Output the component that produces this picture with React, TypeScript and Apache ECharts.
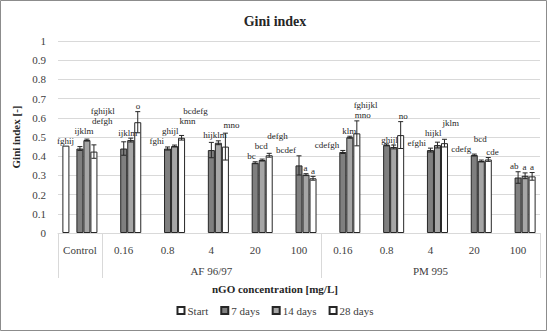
import React, { useEffect, useRef } from "react";
import * as echarts from "echarts";

const categories = ["Control", "0.16", "0.8", "4", "20", "100", "0.16", "0.8", "4", "20", "100"];
const groupOfCategory = ["", "AF 96/97", "AF 96/97", "AF 96/97", "AF 96/97", "AF 96/97", "PM 995", "PM 995", "PM 995", "PM 995", "PM 995"];
const seriesNames = ["Start", "7 days", "14 days", "28 days"];
const yTicks = [0, 0.1, 0.2, 0.3, 0.4, 0.5, 0.6, 0.7, 0.8, 0.9, 1];

const startVals = [0.455, null, null, null, null, null, null, null, null, null, null];
const d7 = [0.44, 0.44, 0.44, 0.432, 0.366, 0.352, 0.422, 0.459, 0.432, 0.406, 0.289];
const d14 = [0.484, 0.484, 0.453, 0.47, 0.38, 0.304, 0.499, 0.448, 0.458, 0.375, 0.298];
const d28 = [0.424, 0.577, 0.496, 0.45, 0.405, 0.285, 0.519, 0.51, 0.468, 0.383, 0.295];
const err7 = [0.01, 0.035, 0.008, 0.04, 0.005, 0.05, 0.008, 0.005, 0.01, 0.005, 0.03];
const err14 = [0.005, 0.01, 0.005, 0.01, 0.005, 0.005, 0.005, 0.01, 0.015, 0.005, 0.015];
const err28 = [0.035, 0.055, 0.012, 0.07, 0.01, 0.01, 0.065, 0.07, 0.02, 0.01, 0.02];
const lab7 = ["fghij", "fghijkl", "fghi", "bcdefg", "bc", "bcdef", "cdefgh", "fghijkl", "efghi", "cdefg", "ab"];
const lab14 = ["ijklm", "ijklm", "ghijl", "hijklm", "bcd", "a", "klm", "ghijl", "hijkl", "bcd", "a"];
const lab28 = ["defgh", "o", "kmn", "mno", "defgh", "a", "mno", "no", "jklm", "cde", "a"];

const FONT = "Times New Roman, Liberation Serif, serif";
const TEXT = "#262626";
const GRID = "#d9d9d9";

export default function App() {
  const ref = useRef<HTMLDivElement>(null);
  useEffect(() => {
    document.body.style.margin = "0";
    if (!ref.current) return;
    const chart = echarts.init(ref.current, undefined, { renderer: "svg" });
    const keys = categories.map((c, i) => `${i}:${c}`);
    const groupKeys = categories.map((_, i) => {
      const g = groupOfCategory[i];
      const members = groupOfCategory.map((x, j) => (x === g ? j : -1)).filter((j) => j >= 0);
      const mid = members[Math.floor(members.length / 2)];
      return `${i}:${g && mid === i ? g : ""}`;
    });
    const boundary = categories.map((_, i) => i === 0 || groupOfCategory[i] !== groupOfCategory[i - 1]);

    const barBase = {
      type: "bar" as const,
      barGap: "0%",
      barCategoryGap: "20%",
      xAxisIndex: 0,
      yAxisIndex: 0,
    };
    const colors = ["#ffffff", "#7f7f7f", "#a6a6a6", "#ffffff"];
    const dataSets = [startVals, d7, d14, d28];
    const barSeries: any[] = [];
    dataSets.forEach((d, k) => {
      barSeries.push({
        ...barBase,
        name: seriesNames[k],
        data: d,
        itemStyle: { color: colors[k], borderColor: TEXT, borderWidth: 1 },
      });
      if (k === 0) {
        barSeries.push({ ...barBase, name: "gap", data: categories.map(() => null) });
      }
    });

    let boxes: { x0: number; x1: number; top: number; bottom: number }[] = [];
    const renderItem = (params: any, api: any) => {
      const i = params.dataIndex;
      if (i === 0) boxes = [];
      const w = api.size([1, 0])[0];
      const center = api.coord([i, 0])[0];
      const bw = (w * 0.8) / 5;
      const children: any[] = [];
      const items = [
        { slot: 2, v: d7[i], e: err7[i], t: lab7[i], align: "right" },
        { slot: 3, v: d14[i], e: err14[i], t: lab14[i], align: "center" },
        { slot: 4, v: d28[i], e: err28[i], t: lab28[i], align: "left" },
      ];
      items.forEach((s) => {
        const cx = center - w * 0.4 + (s.slot + 0.5) * bw;
        const yTop = api.coord([i, s.v + s.e])[1];
        const yBot = api.coord([i, s.v - s.e])[1];
        const st = { stroke: TEXT, lineWidth: 1 };
        children.push({ type: "line", shape: { x1: cx, y1: yTop, x2: cx, y2: yBot }, style: st });
        children.push({ type: "line", shape: { x1: cx - 2.5, y1: yTop, x2: cx + 2.5, y2: yTop }, style: st });
        children.push({ type: "line", shape: { x1: cx - 2.5, y1: yBot, x2: cx + 2.5, y2: yBot }, style: st });
        const tw = s.t.length * 5;
        const x0 = s.align === "right" ? cx + 2 - tw : s.align === "center" ? cx - tw / 2 : cx - 2;
        let bottom = yTop - 1;
        const h = 10;
        let moved = true;
        while (moved) {
          moved = false;
          for (const b of boxes) {
            if (x0 < b.x1 + 1 && x0 + tw > b.x0 - 1 && bottom - h < b.bottom && bottom > b.top) {
              bottom = b.top;
              moved = true;
            }
          }
        }
        boxes.push({ x0, x1: x0 + tw, top: bottom - h, bottom });
        children.push({
          type: "text",
          style: {
            text: s.t,
            x: x0,
            y: bottom,
            textAlign: "left",
            textVerticalAlign: "bottom",
            align: "left",
            verticalAlign: "bottom",
            fontSize: 9,
            fontFamily: FONT,
            fill: TEXT,
          },
        });
      });
      return { type: "group", children };
    };

    chart.setOption({
      animation: false,
      backgroundColor: "#ffffff",
      textStyle: { fontFamily: FONT },
      title: {
        text: "Gini index",
        left: "center",
        top: 9,
        textStyle: { fontFamily: FONT, fontSize: 14, fontWeight: "bold", color: TEXT },
      },
      legend: {
        data: seriesNames,
        bottom: 12,
        left: "center",
        itemWidth: 7,
        itemHeight: 7,
        itemGap: 12,
        icon: "rect",
        textStyle: { fontFamily: FONT, fontSize: 11, color: "#404040", padding: [0, 0, 0, -2] },
      },
      grid: { left: 58, right: 10, top: 41, bottom: 100 },
      xAxis: [
        {
          type: "category",
          data: keys,
          axisLine: { show: true, lineStyle: { color: GRID } },
          axisTick: { show: false },
          axisLabel: {
            interval: 0,
            margin: 11,
            fontFamily: FONT,
            fontSize: 11,
            color: "#404040",
            formatter: (v: string) => v.split(":")[1],
          },
        },
        {
          type: "category",
          data: groupKeys,
          position: "bottom",
          axisLine: { show: false },
          axisTick: {
            show: true,
            length: 45,
            interval: (idx: number) => !!boundary[idx],
            lineStyle: { color: GRID },
          },
          axisLabel: {
            interval: 0,
            margin: 32,
            fontFamily: FONT,
            fontSize: 11,
            color: "#404040",
            formatter: (v: string) => v.split(":")[1],
          },
        },
      ],
      yAxis: {
        type: "value",
        min: yTicks[0],
        max: yTicks[yTicks.length - 1],
        interval: 0.1,
        name: "Gini index [-]",
        nameLocation: "middle",
        nameGap: 36,
        nameTextStyle: { fontFamily: FONT, fontSize: 11, fontWeight: "bold", color: TEXT },
        axisLine: { show: false },
        axisTick: { show: false },
        splitLine: { lineStyle: { color: GRID } },
        axisLabel: {
          fontFamily: FONT,
          fontSize: 11,
          color: "#404040",
          margin: 12,
          formatter: (v: number) => String(Math.round(v * 10) / 10),
        },
      },
      graphic: [
        {
          type: "rect",
          shape: { x: 0.5, y: 0.5, width: 546, height: 330 },
          style: { fill: "none", stroke: "#8c8c8c", lineWidth: 1 },
          silent: true,
        },
        {
          type: "text",
          left: 212,
          top: 283,
          style: {
            text: "nGO concentration [mg/L]",
            fontFamily: FONT,
            fontSize: 11,
            fontWeight: "bold",
            fill: TEXT,
          },
        },
      ],
      series: [
        ...barSeries,
        {
          type: "custom",
          name: "errors",
          xAxisIndex: 0,
          yAxisIndex: 0,
          clip: false,
          silent: true,
          z: 5,
          encode: { x: 0, y: 1 },
          data: categories.map((_, i) => [i, d7[i]]),
          renderItem,
        },
      ],
    });
    return () => chart.dispose();
  }, []);
  return <div ref={ref} style={{ width: 550, height: 333 }} />;
}
